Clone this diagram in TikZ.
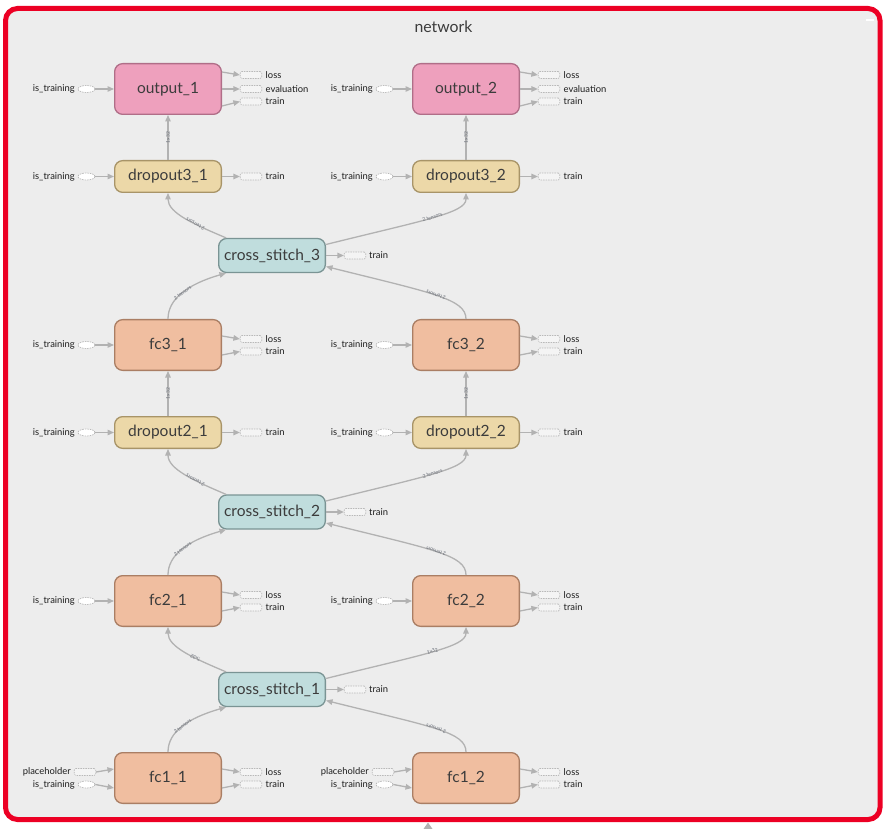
\documentclass[tikz,border=0pt]{standalone}
\usepackage{fontspec}
\setmainfont{Lato}
\usetikzlibrary{arrows.meta,shapes.geometric}
\definecolor{bgc}{RGB}{237,237,237}
\definecolor{framec}{RGB}{236,0,36}
\definecolor{edgec}{RGB}{178,178,178}
\definecolor{txtc}{RGB}{60,60,60}
\definecolor{labc}{RGB}{30,30,30}
\definecolor{elabc}{RGB}{105,110,120}
\definecolor{portc}{RGB}{185,185,185}
\definecolor{outfill}{RGB}{238,160,189}
\definecolor{outdraw}{RGB}{176,110,136}
\definecolor{dropfill}{RGB}{236,216,168}
\definecolor{dropdraw}{RGB}{168,148,104}
\definecolor{fcfill}{RGB}{240,190,160}
\definecolor{fcdraw}{RGB}{170,126,100}
\definecolor{csfill}{RGB}{192,221,221}
\definecolor{csdraw}{RGB}{122,148,148}
\begin{document}
\begin{tikzpicture}[x=1pt,y=-1pt,
 box/.style={rounded corners=8pt, line width=1.3pt, minimum width=106.7pt, inner sep=0pt, font=\fontsize{15.5}{16}\selectfont, text=txtc},
 tallbox/.style={minimum height=50.7pt},
 shortbox/.style={minimum height=31.7pt},
 outbox/.style={box,tallbox,fill=outfill,draw=outdraw},
 dropbox/.style={box,shortbox,fill=dropfill,draw=dropdraw},
 fcbox/.style={box,tallbox,fill=fcfill,draw=fcdraw},
 csbox/.style={box,minimum height=34pt,fill=csfill,draw=csdraw},
 port/.style={draw=portc, line width=0.7pt, dash pattern=on 1.5pt off 1pt, fill=bgc!60!white, minimum width=21.5pt, minimum height=7pt, inner sep=0pt, rounded corners=1.5pt},
 oval/.style={ellipse, draw=portc, line width=0.7pt, dash pattern=on 1.5pt off 1pt, fill=white, minimum width=17pt, minimum height=7pt, inner sep=0pt},
 lab/.style={font=\fontsize{9.4}{10}\selectfont, inner sep=0pt, text=labc},
 link/.style={draw=edgec, line width=1.3pt, -{Triangle[length=6.5pt,width=5.5pt]}},
 elab/.style={font=\fontsize{5}{5}\selectfont, text=elabc, sloped, inner sep=0.5pt}
]
\useasboundingbox (0,0) rectangle (887,829);
\draw[draw=framec, line width=5pt, fill=bgc, rounded corners=12pt] (5.5,8.5) rectangle (880,819.5);
\draw[white, line width=1.3pt] (866,20) -- (874,20);
\fill[edgec] (428,822.5) -- (432.5,829) -- (423.5,829) -- cycle;
\node[font=\fontsize{15.8}{16}\selectfont, text=txtc] (title) at (443.5,27) {network};

\foreach \c/\dx in {1/0,2/298}{
 \begin{scope}[shift={(\dx,0)}]
  \node[outbox] (out\c) at (168,89) {output\_\c};
  \node[dropbox] (dthree\c) at (168,176.5) {dropout3\_\c};
  \node[fcbox] (fcthree\c) at (168,345) {fc3\_\c};
  \node[dropbox] (dtwo\c) at (168,432.5) {dropout2\_\c};
  \node[fcbox] (fctwo\c) at (168,601) {fc2\_\c};
  \node[fcbox] (fcone\c) at (168,778) {fc1\_\c};
  % is_training inputs
  \foreach \n/\y in {out/89,dthree/176.5,fcthree/345,dtwo/432.5,fctwo/601}{
    \node[oval] (it-\n-\c) at (86.5,\y) {};
    \node[lab,anchor=east] (itl-\n-\c) at (75,\y) {is\_training};
    \draw[link] (it-\n-\c) -- (\n\c);
  }
  % fc1 inputs
  \node[port] (ph-\c) at (85,772) {};
  \node[lab,anchor=east] (phl-\c) at (71,772) {placeholder};
  \node[oval] (it-fcone-\c) at (86.5,784.5) {};
  \node[lab,anchor=east] (itl-fcone-\c) at (75,784.5) {is\_training};
  \draw[link] (ph-\c.east) -- ([yshift=9pt]fcone\c.west);
  \draw[link] (it-fcone-\c.east) -- ([yshift=-10pt]fcone\c.west);
  % output ports
  \node[port] (out-loss-\c) at (251,75) {};
  \node[lab,anchor=west] (out-lossl-\c) at (265.5,75) {loss};
  \node[port] (out-eval-\c) at (251,89) {};
  \node[lab,anchor=west] (out-evall-\c) at (265.5,89) {evaluation};
  \node[port] (out-train-\c) at (251,101.5) {};
  \node[lab,anchor=west] (out-trainl-\c) at (265.5,101.5) {train};
  \draw[link] ([yshift=17pt]out\c.east) -- (out-loss-\c.west);
  \draw[link] (out\c.east) -- (out-eval-\c.west);
  \draw[link] ([yshift=-17pt]out\c.east) -- (out-train-\c.west);
  % fc ports
  \foreach \n/\y in {fcthree/345,fctwo/601,fcone/778}{
    \node[port] (\n-loss-\c) at (251,\y-6) {};
    \node[lab,anchor=west] (\n-lossl-\c) at (265.5,\y-6) {loss};
    \node[port] (\n-train-\c) at (251,\y+6.5) {};
    \node[lab,anchor=west] (\n-trainl-\c) at (265.5,\y+6.5) {train};
    \draw[link] ([yshift=9pt]\n\c.east) -- (\n-loss-\c.west);
    \draw[link] ([yshift=-10pt]\n\c.east) -- (\n-train-\c.west);
  }
  % dropout ports
  \foreach \n/\y in {dthree/176.5,dtwo/432.5}{
    \node[port] (\n-train-\c) at (251,\y) {};
    \node[lab,anchor=west] (\n-trainl-\c) at (265.5,\y) {train};
    \draw[link] (\n\c) -- (\n-train-\c);
  }
  % vertical edges
  \draw[link] (dthree\c) -- node[elab,midway]{1x32} (out\c);
  \draw[link] (dtwo\c) -- node[elab,midway]{1x32} (fcthree\c);
 \end{scope}
}

% cross stitch nodes
\node[csbox] (csthree) at (272,255.5) {cross\_stitch\_3};
\node[csbox] (cstwo) at (272,512) {cross\_stitch\_2};
\node[csbox] (csone) at (272,689.5) {cross\_stitch\_1};

\foreach \cs/\y/\lo/\hi/\la/\lb in {csone/689.5/fcone/fctwo/?x32/1x32, cstwo/512/fctwo/dtwo/2 tensors/2 tensors, csthree/255.5/fcthree/dthree/2 tensors/2 tensors}{
  \node[port] (\cs-train) at (355,\y) {};
  \node[lab,anchor=west] (\cs-trainl) at (369,\y) {train};
  \draw[link] (\cs) -- (\cs-train);
  \draw[link] (\lo1.north) to[out=90,in=196,out distance=20pt,in distance=40pt] node[elab,pos=0.5]{2 tensors} ([xshift=-46pt]\cs.south);
  \draw[link] (\lo2.north) to[out=90,in=-14,out distance=20pt,in distance=110pt] node[elab,pos=0.5,allow upside down]{2 tensors} ([yshift=-11pt]\cs.east);
  \draw[link] ([xshift=-46pt]\cs.north) to[out=157,in=-90,out distance=35pt,in distance=20pt] node[elab,pos=0.35,allow upside down]{\la} (\hi1.south);
  \draw[link] ([yshift=11pt]\cs.east) to[out=14,in=-90,out distance=100pt,in distance=20pt] node[elab,pos=0.5]{\lb} (\hi2.south);
}
\end{tikzpicture}
\end{document}
